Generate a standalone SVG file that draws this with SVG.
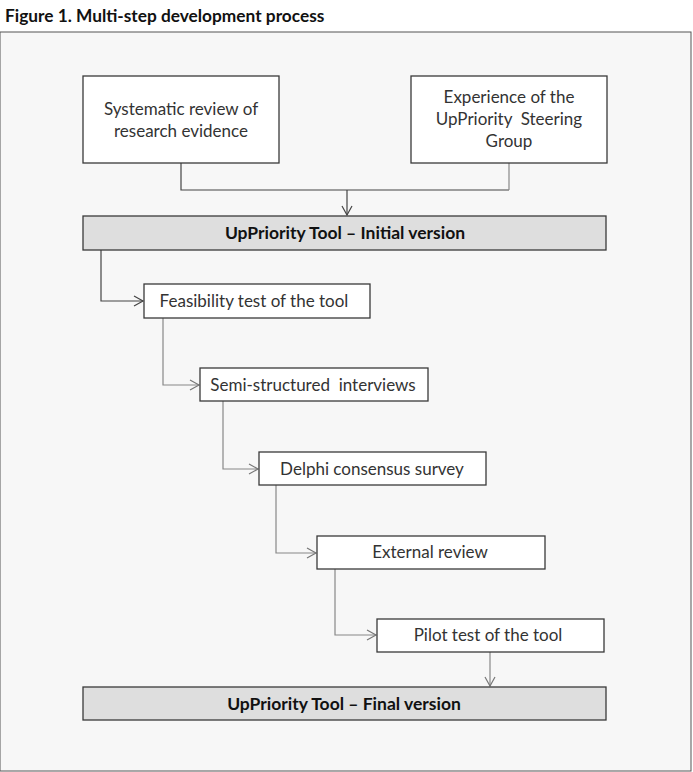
<svg xmlns="http://www.w3.org/2000/svg" width="693" height="772" viewBox="0 0 693 772">
<style>
.t{font-family:Lato,"Liberation Sans",sans-serif;font-size:17px;fill:#333;text-anchor:middle;white-space:pre}
.b{font-family:Lato,"Liberation Sans",sans-serif;font-size:17.5px;font-weight:bold;fill:#111;text-anchor:middle}
.box{fill:#fff;stroke:#3a3a3a;stroke-width:1.3}
.gbox{fill:#dedede;stroke:#3a3a3a;stroke-width:1.3}
.c1{fill:none;stroke:#444;stroke-width:1.2}
.c2{fill:none;stroke:#888;stroke-width:1.2}
</style>
<defs>
<marker id="a1" markerWidth="12" markerHeight="12" refX="10" refY="6" orient="auto" markerUnits="userSpaceOnUse"><path d="M1,1 L10,6 L1,11" fill="none" stroke="#444" stroke-width="1.2"/></marker>
<marker id="a2" markerWidth="12" markerHeight="12" refX="10" refY="6" orient="auto" markerUnits="userSpaceOnUse"><path d="M1,1 L10,6 L1,11" fill="none" stroke="#777" stroke-width="1.2"/></marker>
</defs>
<rect x="0" y="0" width="693" height="772" fill="#fff"/>
<rect x="0" y="32" width="691" height="739" fill="#f7f7f7" stroke="#555" stroke-width="1"/>
<text x="5" y="22" font-family="Lato,'Liberation Sans',sans-serif" font-size="17.3" font-weight="bold" fill="#111">Figure 1. Multi-step development process</text>
<g id="connectors">
<path class="c1" d="M181,163 V190 H509"/>
<path class="c2" d="M509,163 V190"/>
<path class="c1" d="M347,190 V215" marker-end="url(#a1)"/>
<path class="c1" d="M101,250 V301 H143" marker-end="url(#a1)"/>
<path class="c2" d="M163,318 V385 H199" marker-end="url(#a2)"/>
<path class="c2" d="M223,401 V469 H258" marker-end="url(#a2)"/>
<path class="c2" d="M276,485 V553 H316" marker-end="url(#a2)"/>
<path class="c2" d="M335,569 V635 H376" marker-end="url(#a2)"/>
<path class="c2" d="M490,652 V686" marker-end="url(#a2)"/>
</g>
<g id="n1"><rect class="box" x="83" y="76" width="196" height="87"/>
<text class="t" x="181" y="115">Systematic review of</text><text class="t" x="181" y="137">research evidence</text></g>
<g id="n2"><rect class="box" x="411" y="76" width="196" height="87"/>
<text class="t" x="509" y="103">Experience of the</text><text class="t" x="509" y="125">UpPriority  Steering</text><text class="t" x="509" y="147">Group</text></g>
<g id="n3"><rect class="gbox" x="83" y="216" width="523" height="34"/>
<text class="b" x="345" y="239">UpPriority Tool – Initial version</text></g>
<g id="n4"><rect class="box" x="144" y="284" width="226" height="34"/>
<text class="t" x="254" y="307">Feasibility test of the tool</text></g>
<g id="n5"><rect class="box" x="200" y="368" width="228" height="33"/>
<text class="t" x="313" y="391">Semi-structured  interviews</text></g>
<g id="n6"><rect class="box" x="259" y="452" width="227" height="33"/>
<text class="t" x="372" y="475">Delphi consensus survey</text></g>
<g id="n7"><rect class="box" x="317" y="536" width="228" height="33"/>
<text class="t" x="430" y="558">External review</text></g>
<g id="n8"><rect class="box" x="377" y="619" width="227" height="33"/>
<text class="t" x="488" y="641">Pilot test of the tool</text></g>
<g id="n9"><rect class="gbox" x="83" y="687" width="523" height="33"/>
<text class="b" x="344" y="710">UpPriority Tool – Final version</text></g>
</svg>
